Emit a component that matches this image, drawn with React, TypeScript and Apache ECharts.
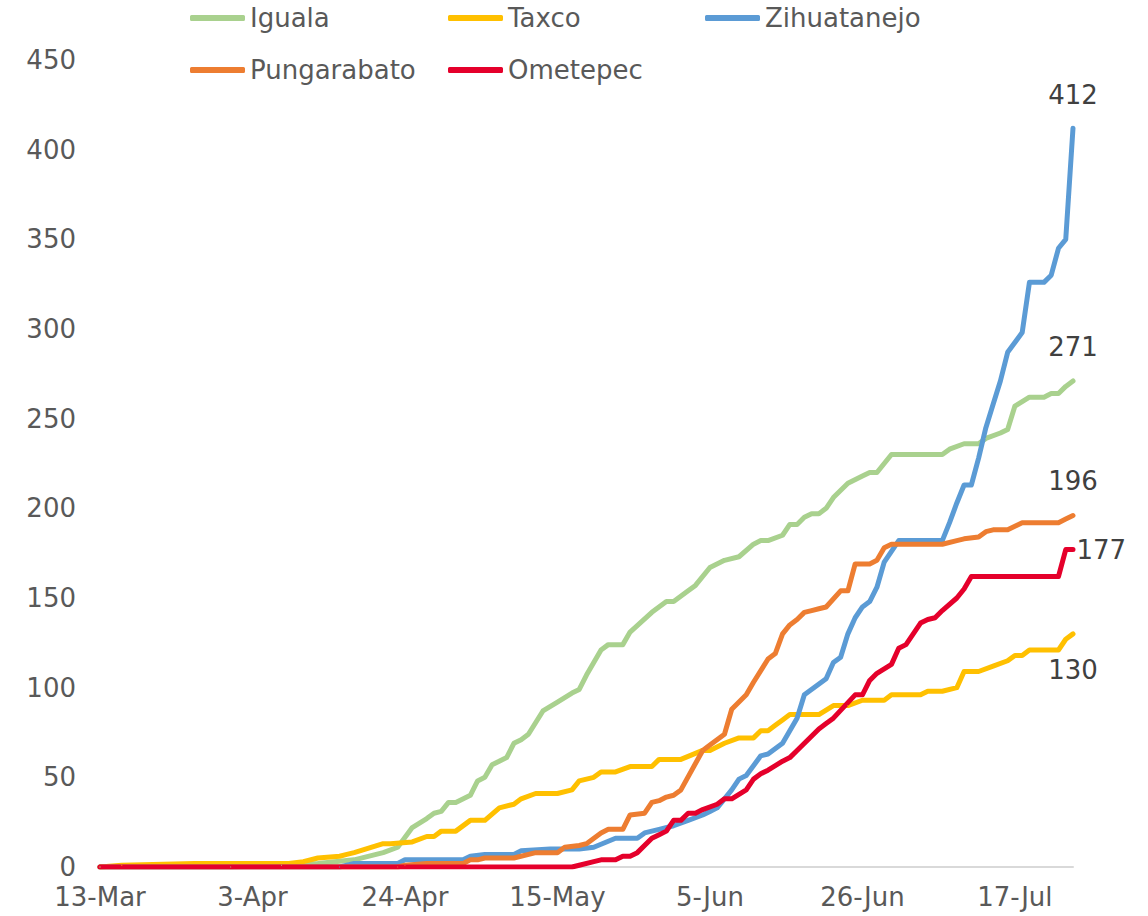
import React, { useEffect, useRef } from 'react';
import * as echarts from 'echarts';

// Day offsets from 13-Mar (day 0) to 25-Jul (day 134)
const xTickLabels = ['13-Mar', '3-Apr', '24-Apr', '15-May', '5-Jun', '26-Jun', '17-Jul'];
const seriesNames = ['Iguala', 'Taxco', 'Zihuatanejo', 'Pungarabato', 'Ometepec'];
const seriesColors = ['#A9D18E', '#FFC000', '#5B9BD5', '#ED7D31', '#E5002B'];

const iguala = [[0,0],[18,0],[25,1],[30,2],[35,4],[39,8],[41,11],[43,22],[45,27],[46,30],[47,31],[48,36],[49,36],[51,40],[52,48],[53,50],[54,57],[56,61],[57,69],[58,71],[59,74],[61,87],[63,92],[65,97],[66,99],[67,107],[69,121],[70,124],[72,124],[73,131],[76,142],[78,148],[79,148],[81,154],[82,157],[84,167],[86,171],[88,173],[90,180],[91,182],[92,182],[94,185],[95,191],[96,191],[97,195],[98,197],[99,197],[100,200],[101,206],[103,214],[105,218],[106,220],[107,220],[108,225],[109,230],[116,230],[117,233],[119,236],[121,236],[122,239],[124,242],[125,244],[126,257],[128,262],[130,262],[131,264],[132,264],[133,268],[134,271]];

const taxco = [[0,0],[3,1],[13,2],[26,2],[28,3],[30,5],[33,6],[34,7],[35,8],[39,13],[40,13],[43,14],[45,17],[46,17],[47,20],[49,20],[51,26],[53,26],[55,33],[57,35],[58,38],[60,41],[63,41],[65,43],[66,48],[68,50],[69,53],[71,53],[73,56],[76,56],[77,60],[80,60],[83,65],[84,65],[86,69],[88,72],[90,72],[91,76],[92,76],[93,79],[94,82],[95,85],[97,85],[99,85],[101,90],[103,90],[105,93],[108,93],[109,96],[113,96],[114,98],[116,98],[118,100],[119,109],[121,109],[123,112],[125,115],[126,118],[127,118],[128,121],[132,121],[133,127],[134,130]];

const zihuatanejo = [[0,0],[33,0],[35,2],[41,2],[42,4],[50,4],[51,6],[53,7],[57,7],[58,9],[62,10],[64,10],[66,10],[68,11],[71,16],[74,16],[75,19],[77,21],[79,23],[81,26],[83,29],[84,31],[85,33],[87,43],[88,49],[89,51],[91,62],[92,63],[94,69],[96,83],[97,96],[100,105],[101,114],[102,117],[103,130],[104,139],[105,145],[106,148],[107,156],[108,170],[109,176],[110,182],[116,182],[117,192],[118,203],[119,213],[120,213],[121,228],[122,245],[123,258],[124,271],[125,287],[127,298],[128,326],[130,326],[131,330],[132,345],[133,350],[134,412]];

const pungarabato = [[0,0],[41,0],[42,1],[45,2],[50,2],[51,4],[52,4],[53,5],[57,5],[60,8],[63,8],[64,11],[66,12],[67,13],[69,19],[70,21],[72,21],[73,29],[75,30],[76,36],[77,37],[78,39],[79,40],[80,43],[83,65],[84,68],[86,74],[87,88],[88,92],[89,96],[90,103],[92,116],[93,119],[94,130],[95,135],[96,138],[97,142],[98,143],[99,144],[100,145],[102,154],[103,154],[104,169],[106,169],[107,171],[108,178],[109,180],[116,180],[118,182],[119,183],[121,184],[122,187],[123,188],[125,188],[127,192],[132,192],[133,194],[134,196]];

const ometepec = [[0,0],[65,0],[66,1],[68,3],[69,4],[71,4],[72,6],[73,6],[74,8],[76,16],[77,18],[78,20],[79,26],[80,26],[81,30],[82,30],[83,32],[85,35],[86,38],[87,38],[89,43],[90,49],[91,52],[92,54],[94,59],[95,61],[96,65],[99,77],[100,80],[101,83],[104,96],[105,96],[106,104],[107,108],[109,113],[110,122],[111,124],[113,136],[114,138],[115,139],[116,143],[118,150],[119,155],[120,162],[132,162],[133,177],[134,177]];

const allData = [iguala, taxco, zihuatanejo, pungarabato, ometepec];
const endLabelPos: any[] = [
  { position: 'top', distance: 21 },
  { position: 'bottom', distance: 23 },
  { position: 'top', distance: 20 },
  { position: 'top', distance: 21 },
  { position: 'right', distance: 3 },
];
const legendPos = [
  { left: 190, top: 5 },
  { left: 448, top: 5 },
  { left: 705, top: 5 },
  { left: 190, top: 57 },
  { left: 448, top: 57 },
];

const FONT = 'DejaVu Sans';
const TXT = '#595959';
const FS = 26;

export default function App() {
  const ref = useRef<HTMLDivElement>(null);
  useEffect(() => {
    const chart = echarts.init(ref.current as HTMLDivElement, null, { renderer: 'svg' });
    const series = seriesNames.map((name, i) => {
      const d = allData[i];
      return {
        name,
        type: 'line',
        symbol: 'circle',
        symbolSize: 1,
        showSymbol: true,
        lineStyle: { width: 5, color: seriesColors[i], cap: 'round', join: 'round' },
        itemStyle: { color: seriesColors[i] },
        emphasis: { disabled: true },
        data: d.map((p, j) =>
          j === d.length - 1
            ? {
                value: p,
                label: {
                  show: true,
                  ...endLabelPos[i],
                  formatter: (q: any) => String(q.value[1]),
                  fontFamily: FONT,
                  fontSize: FS,
                  color: '#404040',
                },
              }
            : p
        ),
      };
    });
    chart.setOption({
      animation: false,
      backgroundColor: '#ffffff',
      grid: { left: 100, right: 75, top: 60, bottom: 49, containLabel: false },
      legend: seriesNames.map((name, i) => ({
        data: [name],
        ...legendPos[i],
        padding: 0,
        icon: 'roundRect',
        itemWidth: 55,
        itemHeight: 6,
        selectedMode: false,
        textStyle: { fontFamily: FONT, fontSize: FS, color: TXT },
      })),
      xAxis: {
        type: 'value',
        min: 0,
        max: 134,
        interval: 21,
        axisLine: { show: true, lineStyle: { color: '#D9D9D9', width: 2 } },
        axisTick: { show: false },
        splitLine: { show: false },
        axisLabel: {
          margin: 17,
          fontFamily: FONT,
          fontSize: FS,
          color: TXT,
          showMaxLabel: false,
          formatter: (v: number) => (v % 21 === 0 ? xTickLabels[v / 21] ?? '' : ''),
        },
      },
      yAxis: {
        type: 'value',
        min: 0,
        max: 450,
        interval: 50,
        axisLine: { show: false },
        axisTick: { show: false },
        splitLine: { show: false },
        axisLabel: { margin: 24, fontFamily: FONT, fontSize: FS, color: TXT },
      },
      series,
    });
    return () => chart.dispose();
  }, []);
  return (
    <div
      ref={ref}
      style={{ position: 'fixed', left: 0, top: 0, width: 1148, height: 916, background: '#fff' }}
    />
  );
}
